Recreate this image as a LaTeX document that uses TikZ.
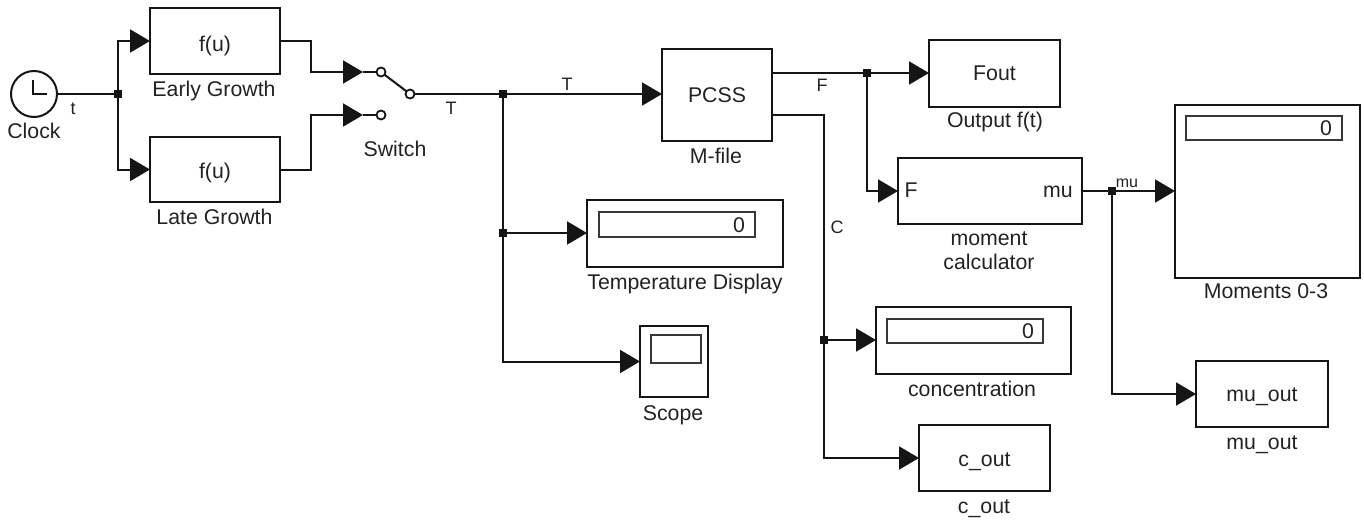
\documentclass[tikz,border=0pt]{standalone}
\usepackage{fontspec}
\setmainfont{Liberation Sans}
\usetikzlibrary{arrows.meta}
\definecolor{ink}{HTML}{151515}
\definecolor{txt}{HTML}{222222}
\tikzset{
  block/.style={draw=ink,line width=2pt,rectangle,inner sep=0pt,outer sep=0pt,fill=white},
  disp/.style={draw=ink!85,line width=1.6pt,rectangle,inner sep=0pt,outer sep=0pt,fill=white},
  lab/.style={anchor=base,inner sep=0pt,outer sep=0pt,text=txt,font=\fontsize{21.3}{24}\selectfont},
  siglab/.style={anchor=base,inner sep=0pt,outer sep=0pt,text=txt,font=\fontsize{18}{20}\selectfont},
  junct/.style={fill=ink,draw=none,rectangle,minimum size=8pt,inner sep=0pt,outer sep=0pt},
  swpt/.style={draw=ink,fill=white,line width=1.8pt,circle,minimum size=9pt,inner sep=0pt,outer sep=0pt},
  wire/.style={draw=ink,line width=2pt},
  awire/.style={wire,-{Triangle[length=20pt,width=23pt]}},
}
\begin{document}
\begin{tikzpicture}[x=1pt,y=-1pt]
\useasboundingbox (0,0) rectangle (1364,519);
% blocks
\node[circle,draw=ink,line width=2pt,minimum size=46pt,inner sep=0pt,outer sep=0pt] (clock) at (34,94) {};
\node[block,minimum width=130pt,minimum height=66pt] (early) at (215,41) {};
\node[block,minimum width=130pt,minimum height=65pt] (late) at (215,169.5) {};
\node[block,minimum width=110pt,minimum height=92pt] (pcss) at (717,95) {};
\node[block,minimum width=131pt,minimum height=67pt] (fout) at (994.5,73.5) {};
\node[block,minimum width=184pt,minimum height=66pt] (moment) at (990,191) {};
\node[block,minimum width=185pt,minimum height=173pt] (moments) at (1267.5,191.5) {};
\node[block,minimum width=196pt,minimum height=67pt] (tempd) at (685,233.5) {};
\node[block,minimum width=195pt,minimum height=67pt] (conc) at (973.5,340.5) {};
\node[block,minimum width=68pt,minimum height=71pt] (scope) at (674,361.5) {};
\node[block,minimum width=132pt,minimum height=66pt] (muout) at (1262,394) {};
\node[block,minimum width=131pt,minimum height=66pt] (cout) at (984.5,458) {};
% display insets
\node[disp,minimum width=156pt,minimum height=25pt] (tempin) at (677,224.5) {};
\node[disp,minimum width=156pt,minimum height=24pt] (concin) at (965,331) {};
\node[disp,minimum width=156pt,minimum height=24pt] (momin) at (1264,128) {};
\node[disp,minimum width=50pt,minimum height=28pt] (scopein) at (676,349) {};
% block texts
\node[lab] (tearly) at (215,52) {f(u)};
\node[lab] (tlate) at (215,178) {f(u)};
\node[lab] (tpcss) at (717,102) {PCSS};
\node[lab] (tfout) at (994.5,80) {Fout};
\node[lab] (tmuout) at (1262,401) {mu\_out};
\node[lab] (tcout) at (984.5,466) {c\_out};
\node[lab] (tempz) at (739,232) {0};
\node[lab] (concz) at (1028,338) {0};
\node[lab] (momz) at (1326,135) {0};
\node[lab] (momF) at (911,197) {F};
\node[lab] (mommu) at (1058,197) {mu};
% clock hands
\coordinate (handtop) at (33,80);
\coordinate (handmid) at (33,94);
\coordinate (handend) at (47,94);
\draw[wire,line join=miter] (handtop) -- (handmid) -- (handend);
% switch
\node[swpt] (swa) at (381,72) {};
\node[swpt] (swb) at (381,115) {};
\node[swpt] (swo) at (410,94) {};
\coordinate (swaIn) at (363,72);
\coordinate (swbIn) at (363,115);
\draw[wire] (swa) -- (swo);
\draw[wire] (swaIn) -- (swa);
\draw[wire] (swbIn) -- (swb);
% junctions
\node[junct] (j1) at (118,94) {};
\node[junct] (j2) at (503,94) {};
\node[junct] (j3) at (503,233) {};
\node[junct] (j4) at (867,73) {};
\node[junct] (j5) at (823.5,340) {};
\node[junct] (j6) at (1112,191) {};
% knee points and ports
\coordinate (k1) at (311,56);
\coordinate (k2) at (311,142);
\coordinate (pF) at (772,73);
\coordinate (pC) at (772,115);
\coordinate (pmu) at (1082,191);
% wires
\draw[wire] (clock) -- (j1);
\draw[awire] (j1.center) |- (early.west);
\draw[awire] (j1.center) |- (late.west);
\draw[awire] (early.east) -| (k1) |- (swaIn);
\draw[awire] (late.east) -| (k2) |- (swbIn);
\draw[wire] (swo) -- (j2);
\draw[awire] (j2.center) -- (pcss.west |- j2);
\draw[wire] (j2.center) -- (j3.center);
\draw[awire] (j3.center) -- (tempd.west |- j3);
\draw[awire] (j3.center) |- (scope.west);
\draw[wire] (pF) -- (j4.center);
\draw[awire] (j4.center) -- (fout.west |- j4);
\draw[awire] (j4.center) |- (moment.west);
\draw[wire] (pC) -| (j5.center);
\draw[awire] (j5.center) -- (conc.west |- j5);
\draw[awire] (j5.center) |- (cout.west);
\draw[wire] (pmu) -- (j6.center);
\draw[awire] (j6.center) -- (moments.west |- j6);
\draw[awire] (j6.center) |- (muout.west);
% labels
\node[lab] (lclock) at (34,138) {Clock};
\node[lab] (learly) at (214,96) {Early Growth};
\node[lab] (llate) at (214.5,224) {Late Growth};
\node[lab] (lswitch) at (395,156) {Switch};
\node[lab] (lmfile) at (716,163) {M-file};
\node[lab] (ltemp) at (685,289) {Temperature Display};
\node[lab] (lscope) at (673,420) {Scope};
\node[lab] (lout) at (995,127) {Output f(t)};
\node[lab] (lmoma) at (989,245) {moment};
\node[lab] (lmomb) at (989,269) {calculator};
\node[lab] (lmoms) at (1266,298) {Moments 0-3};
\node[lab] (lconc) at (972,396) {concentration};
\node[lab] (lmuout) at (1262,449) {mu\_out};
\node[lab] (lcout) at (984,513) {c\_out};
% signal labels
\node[siglab] (st) at (73,114) {t};
\node[siglab] (sT1) at (451,114) {T};
\node[siglab] (sT2) at (567,90) {T};
\node[siglab] (sF) at (822,92) {F};
\node[siglab] (sC) at (837,233) {C};
\node[siglab,font=\fontsize{16}{18}\selectfont] (smu) at (1127,187) {mu};
\end{tikzpicture}
\end{document}
